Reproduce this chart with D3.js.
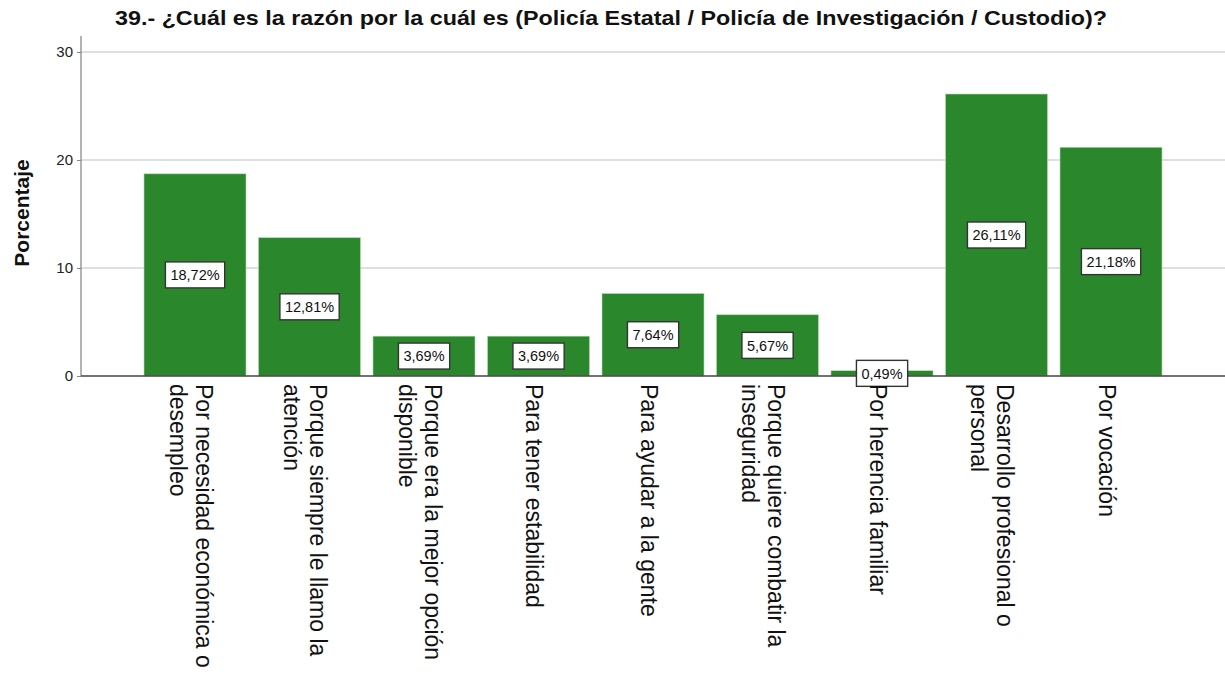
<!DOCTYPE html>
<html>
<head>
<meta charset="utf-8">
<script src="https://cdn.jsdelivr.net/npm/d3@7"></script>
<style>
  html, body { margin: 0; padding: 0; background: #fff; }
  svg { display: block; font-family: "Liberation Sans", Arial, sans-serif; }
</style>
</head>
<body>
<svg id="chart" width="1225" height="674"></svg>
<script>
// Reasons for joining (percent of respondents)
const categories = [
  ["Por necesidad económica o", "desempleo"],
  ["Porque siempre le llamo la", "atención"],
  ["Porque era la mejor opción", "disponible"],
  ["Para tener estabilidad"],
  ["Para ayudar a la gente"],
  ["Porque quiere combatir la", "inseguridad"],
  ["Por herencia familiar"],
  ["Desarrollo profesional o", "personal"],
  ["Por vocación"]
];
const values = [18.72, 12.81, 3.69, 3.69, 7.64, 5.67, 0.49, 26.11, 21.18];
const yTicks = [0, 10, 20, 30];
const titleText = "39.- ¿Cuál es la razón por la cuál es (Policía Estatal / Policía de Investigación / Custodio)?";
const yLabel = "Porcentaje";

const svg = d3.select("#chart");
const axisX = 81, plotRight = 1225, yBottom = 376, yTop = 36;

const keys = categories.map((_, i) => i);
const x = d3.scaleBand()
  .domain(keys)
  .range([137.75, 1168.25])
  .paddingInner(0.109)
  .paddingOuter(0.0545);

const y = d3.scaleLinear()
  .domain([0, 31.48])
  .range([yBottom, yTop]);

// title (wide-set bold face)
svg.append("text")
  .attr("x", 115)
  .attr("y", 25)
  .attr("font-weight", "bold")
  .attr("font-size", 20.5)
  .attr("fill", "#111")
  .attr("textLength", 992)
  .attr("lengthAdjust", "spacingAndGlyphs")
  .text(titleText);

// gridlines
svg.append("g")
  .selectAll("line")
  .data(yTicks.filter(t => t > 0))
  .join("line")
  .attr("x1", axisX)
  .attr("x2", plotRight)
  .attr("y1", d => y(d))
  .attr("y2", d => y(d))
  .attr("stroke", "#d4d4d4")
  .attr("stroke-width", 1.6);

// y axis
const yAxis = d3.axisLeft(y).tickValues(yTicks).tickSize(4).tickPadding(4).tickFormat(d3.format("d"));
const gy = svg.append("g")
  .attr("transform", `translate(${axisX},0)`)
  .call(yAxis);
gy.select(".domain").remove();
gy.selectAll(".tick line").attr("stroke", "#888");
gy.selectAll(".tick text")
  .attr("font-size", 15)
  .attr("font-family", "Liberation Sans, Arial, sans-serif")
  .attr("fill", "#222");
svg.append("line")
  .attr("x1", axisX).attr("x2", axisX)
  .attr("y1", yTop).attr("y2", yBottom)
  .attr("stroke", "#8a8a8a").attr("stroke-width", 1.3);

// y axis title
svg.append("text")
  .attr("transform", `translate(29,213) rotate(-90)`)
  .attr("text-anchor", "middle")
  .attr("font-weight", "bold")
  .attr("font-size", 21)
  .attr("fill", "#111")
  .text(yLabel);

// bars
svg.append("g")
  .selectAll("rect")
  .data(values)
  .join("rect")
  .attr("x", (d, i) => x(i))
  .attr("width", x.bandwidth())
  .attr("y", d => y(d))
  .attr("height", d => y(0) - y(d))
  .attr("fill", "#2b872b")
  .attr("stroke", "#b9dcb9")
  .attr("stroke-width", 0.6);

// baseline
svg.append("line")
  .attr("x1", axisX).attr("x2", plotRight)
  .attr("y1", yBottom).attr("y2", yBottom)
  .attr("stroke", "#444").attr("stroke-width", 1.3);

// value labels in boxes at mid-height of each bar
const fmt = v => d3.format(".2f")(v).replace(".", ",") + "%";
const lab = svg.append("g")
  .selectAll("g")
  .data(values)
  .join("g")
  .attr("transform", (d, i) => `translate(${x(i) + x.bandwidth() / 2},${y(d / 2)})`);
lab.append("text")
  .attr("text-anchor", "middle")
  .attr("dy", "0.36em")
  .attr("font-size", 14.5)
  .attr("fill", "#111")
  .text(fmt)
  .each(function () {
    const bb = this.getBBox();
    d3.select(this.parentNode).insert("rect", "text")
      .attr("x", bb.x - 5)
      .attr("y", -13)
      .attr("width", bb.width + 10)
      .attr("height", 26)
      .attr("fill", "#fff")
      .attr("stroke", "#333")
      .attr("stroke-width", 1.4);
  });

// category labels, rotated to read downward
const fs = 23, lh = 26;
const cat = svg.append("g")
  .selectAll("g")
  .data(categories)
  .join("g")
  .attr("transform", (d, i) => `translate(${x(i) + x.bandwidth() / 2},384) rotate(90)`);
cat.append("text")
  .attr("font-size", fs)
  .attr("fill", "#111")
  .attr("text-anchor", "start")
  .each(function (lines) {
    const n = lines.length;
    const y0 = 4 - ((n - 1) * lh - 0.716 * fs) / 2;
    d3.select(this).selectAll("tspan")
      .data(lines)
      .join("tspan")
      .attr("x", 0)
      .attr("y", (l, j) => y0 + j * lh)
      .text(l => l);
  });
</script>
</body>
</html>
